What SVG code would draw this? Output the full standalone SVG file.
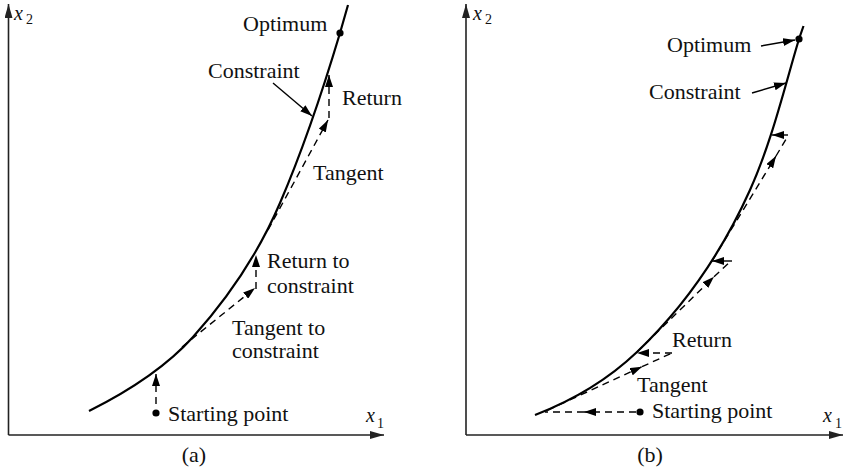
<svg xmlns="http://www.w3.org/2000/svg" width="844" height="476" viewBox="0 0 844 476">
<style>
text{font-family:"Liberation Serif","Times New Roman",serif;font-size:22px;fill:#111}
.ax{stroke:#222;stroke-width:1.6;fill:none}
.cv{stroke:#000;stroke-width:2.2;fill:none}
.ds{stroke:#000;stroke-width:1.4;fill:none;stroke-dasharray:7 5}
.sl{stroke:#000;stroke-width:1.4;fill:none}
.it{font-style:italic;font-size:20px}
.sb{font-size:14px}
</style>
<defs>
<marker id="ah" viewBox="0 0 12 8" refX="12" refY="4" markerWidth="12" markerHeight="8" markerUnits="userSpaceOnUse" orient="auto"><path d="M0,0 L12,4 L0,8 z" fill="#000"/></marker>
<marker id="axh" viewBox="0 0 14 8" refX="14" refY="4" markerWidth="14" markerHeight="8" markerUnits="userSpaceOnUse" orient="auto"><path d="M0,0 L14,4 L0,8 z" fill="#222"/></marker>
</defs>

<g id="axes-a">
<path class="ax" d="M8.5,435 L8.5,4" marker-end="url(#axh)"/>
<path class="ax" d="M8.5,435 L384,435" marker-end="url(#axh)"/>
<text class="it" x="14" y="20">x</text><text class="sb" x="26" y="24">2</text>
<text class="it" x="366" y="422">x</text><text class="sb" x="377" y="428">1</text>
<text x="194" y="462" text-anchor="middle">(a)</text>
</g>
<g id="constraint-a">
<path class="cv" d="M89,411 C127,392 164.6,368.6 193,337 C228.5,297.6 259.1,251.7 280,203 C303.7,147.9 322.8,90.5 340,33 L348,5"/>
</g>
<g id="optimum-a"><circle cx="340" cy="33" r="3.6" fill="#000"/><text x="243" y="31">Optimum</text></g>
<g id="label-constraint-a"><text x="208" y="78">Constraint</text></g>
<g id="label-return-a"><text x="342" y="105">Return</text></g>
<g id="label-tangent-a"><text x="313" y="180">Tangent</text></g>
<g id="label-return-to-a"><text x="267" y="268">Return to</text><text x="267" y="293">constraint</text></g>
<g id="label-tangent-to-a"><text x="232" y="335">Tangent to</text><text x="232" y="358">constraint</text></g>
<g id="start-a"><circle cx="156" cy="413" r="3.6" fill="#000"/><text x="168" y="421">Starting point</text></g>

<g id="axes-b">
<path class="ax" d="M466,435 L466,4" marker-end="url(#axh)"/>
<path class="ax" d="M466,435 L843,435" marker-end="url(#axh)"/>
<text class="it" x="473" y="20">x</text><text class="sb" x="485" y="24">2</text>
<text class="it" x="823" y="422">x</text><text class="sb" x="835" y="428">1</text>
<text x="650" y="462" text-anchor="middle">(b)</text>
</g>
<g id="constraint-b">
<path class="cv" d="M535,415 C572.3,400.6 608,379.6 637,352 C684.8,306.5 722.9,250.2 750,190 C771.7,141.7 783.8,89.8 799,39 L803.5,26"/>
</g>
<g id="optimum-b"><circle cx="799" cy="39" r="3.6" fill="#000"/><text x="667" y="52">Optimum</text></g>
<g id="label-constraint-b"><text x="649" y="99">Constraint</text></g>
<g id="label-return-b"><text x="672" y="347">Return</text></g>
<g id="label-tangent-b"><text x="637" y="392">Tangent</text></g>
<g id="start-b"><circle cx="640" cy="412" r="3.6" fill="#000"/><text x="652" y="418">Starting point</text></g>

<g id="connectors">
<path class="sl" d="M273,83 L312,116" marker-end="url(#ah)"/>
<path class="ds" d="M156,404 L156,374" marker-end="url(#ah)"/>
<path class="ds" d="M182,347 L255,288" marker-end="url(#ah)"/>
<path class="ds" d="M256,289 L256,255" marker-end="url(#ah)"/>
<path class="ds" d="M268,230 L328,120" marker-end="url(#ah)"/>
<path class="ds" d="M329,118 L329,75" marker-end="url(#ah)"/>
<path class="sl" d="M761,46 L795,40" marker-end="url(#ah)"/>
<path class="sl" d="M752,93 L786,83" marker-end="url(#ah)"/>
<path class="ds" d="M636,412 L584,412" marker-end="url(#ah)"/>
<path class="ds" d="M596,412 L545,412"/>
<path class="ds" d="M548,410 L642,366.7" marker-end="url(#ah)"/>
<path class="ds" d="M642,366.7 L672,353"/>
<path class="ds" d="M672,353 L637,353" marker-end="url(#ah)"/>
<path class="ds" d="M637,352 L714,276.7" marker-end="url(#ah)"/>
<path class="ds" d="M714,276.7 L731,261"/>
<path class="sl" d="M732,261 L712,261" marker-end="url(#ah)"/>
<path class="ds" d="M712,261 L776,156" marker-end="url(#ah)"/>
<path class="ds" d="M776,156 L788,136"/>
<path class="sl" d="M788,135 L772,135" marker-end="url(#ah)"/>
</g>
</svg>
